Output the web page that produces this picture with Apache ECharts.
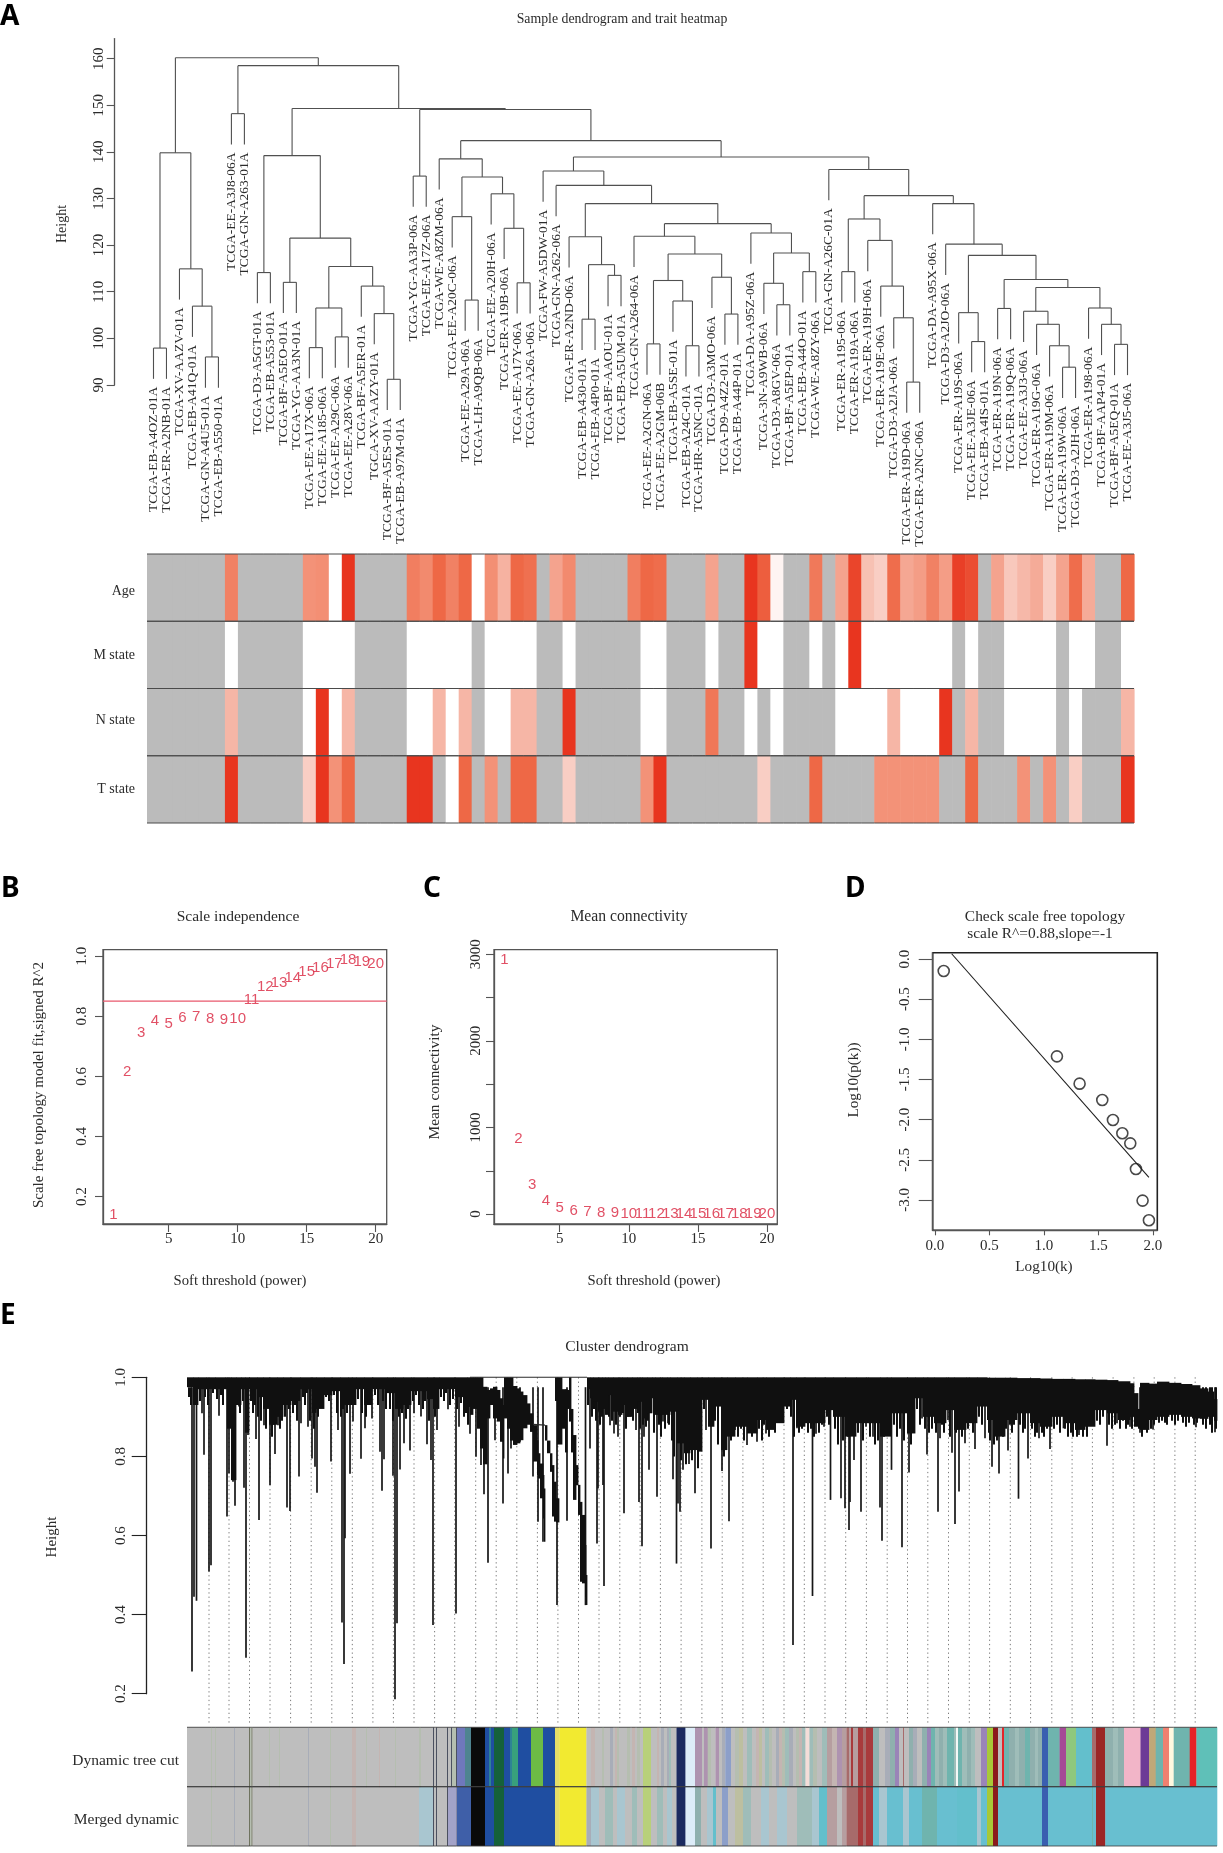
<!DOCTYPE html>
<html>
<head>
<meta charset="utf-8">
<title>WGCNA panels</title>
<script src="https://cdn.jsdelivr.net/npm/echarts@6/dist/echarts.min.js"></script>
<style>
  html, body { margin: 0; padding: 0; background: #fff; }
  #chart { width: 1223px; height: 1853px; }
</style>
</head>
<body>
<div id="chart"></div>
<script>
// ---- panel A: samples in leaf order
const sampleNames = [
  'TCGA-EB-A4OZ-01A','TCGA-ER-A2NB-01A','TCGA-XV-AAZV-01A','TCGA-EB-A41Q-01A','TCGA-GN-A4U5-01A','TCGA-EB-A550-01A',
  'TCGA-EE-A3J8-06A','TCGA-GN-A263-01A','TCGA-D3-A5GT-01A','TCGA-EB-A553-01A','TCGA-BF-A5EO-01A','TCGA-YG-AA3N-01A',
  'TCGA-EE-A17X-06A','TCGA-EE-A185-06A','TCGA-EE-A29C-06A','TCGA-EE-A28V-06A','TCGA-BF-A5ER-01A','TGCA-XV-AAZY-01A',
  'TCGA-BF-A5ES-01A','TCGA-EB-A97M-01A','TCGA-YG-AA3P-06A','TCGA-EE-A17Z-06A','TCGA-WE-A8ZM-06A','TCGA-EE-A20C-06A',
  'TCGA-EE-A29A-06A','TCGA-LH-A9QB-06A','TCGA-EE-A20H-06A','TCGA-ER-A19B-06A','TCGA-EE-A17Y-06A','TCGA-GN-A26A-06A',
  'TCGA-FW-A5DW-01A','TCGA-GN-A262-06A','TCGA-ER-A2ND-06A','TCGA-EB-A430-01A','TCGA-EB-A4P0-01A','TCGA-BF-AAOU-01A',
  'TCGA-EB-A5UM-01A','TCGA-GN-A264-06A','TCGA-EE-A2GN-06A','TCGA-EE-A2GM-06B','TCGA-EB-A5SE-01A','TCGA-EB-A24C-01A',
  'TCGA-HR-A5NC-01A','TCGA-D3-A3MO-06A','TCGA-D9-A4Z2-01A','TCGA-EB-A44P-01A','TCGA-DA-A95Z-06A','TCGA-3N-A9WB-06A',
  'TCGA-D3-A8GV-06A','TCGA-BF-A5EP-01A','TCGA-EB-A44O-01A','TCGA-WE-A8ZY-06A','TCGA-GN-A26C-01A','TCGA-ER-A195-06A',
  'TCGA-ER-A19A-06A','TCGA-ER-A19H-06A','TCGA-ER-A19E-06A','TCGA-D3-A2JA-06A','TCGA-ER-A19D-06A','TCGA-ER-A2NC-06A',
  'TCGA-DA-A95X-06A','TCGA-D3-A2JO-06A','TCGA-ER-A19S-06A','TCGA-EE-A3JE-06A','TCGA-EB-A4IS-01A','TCGA-ER-A19N-06A',
  'TCGA-ER-A19Q-06A','TCGA-EE-A3J3-06A','TCGA-ER-A19G-06A','TCGA-ER-A19M-06A','TCGA-ER-A19W-06A','TCGA-D3-A2JH-06A',
  'TCGA-ER-A198-06A','TCGA-BF-AAP4-01A','TCGA-BF-A5EQ-01A','TCGA-EE-A3J5-06A'
];
// hclust style: negative = leaf number, positive = earlier merge number, then height
const sampleMerges = [
  [-1,-2,97.9],[-5,-6,96.0],[-4,2,106.9],[-3,3,114.9],[1,4,139.8],[-7,-8,148.2],[-9,-10,114.1],[-11,-12,112.0],
  [-13,-14,98.0],[-15,-16,100.3],[9,10,106.5],[-19,-20,91.2],[-18,12,105.3],[-17,13,111.2],[11,14,115.4],[8,15,121.5],
  [7,16,139.2],[-21,-22,134.8],[-25,-26,108.2],[-24,19,126.1],[-29,-30,111.9],[-28,21,123.6],[-27,22,131.0],[20,23,134.6],
  [-23,24,138.5],[-34,-35,104.1],[-36,-37,113.5],[26,27,115.8],[-33,28,121.8],[-39,-40,98.8],[-42,-43,98.4],[-41,31,108.0],
  [30,32,112.4],[-45,-46,105.2],[-44,34,113.1],[33,35,118.1],[-38,36,121.9],[-49,-50,107.2],[-48,38,111.8],[-51,-52,114.3],
  [39,40,118.3],[-47,41,122.6],[37,42,124.6],[29,43,128.9],[-32,44,132.8],[-31,45,135.9],[-54,-55,114.3],[-59,-60,90.6],
  [-58,48,104.4],[-57,49,111.2],[-56,50,121.0],[47,51,125.6],[-71,-72,93.8],[-70,53,98.4],[-69,54,103.0],[-68,55,105.8],
  [-75,-76,98.7],[-74,57,103.0],[-73,58,106.5],[56,59,110.9],[-66,-67,106.4],[61,60,112.6],[-64,-65,99.3],[-63,63,105.5],
  [64,62,117.8],[-62,65,120.2],[-61,66,128.9],[52,67,130.6],[-53,68,136.2],[46,69,138.9],[25,70,142.4],[18,71,149.1],
  [17,72,149.3],[6,73,158.5],[5,74,160.2]
];
const leafHang = 6.6;
const traitNames = ['Age', 'M state', 'N state', 'T state'];
const NA = null;
const ageRow = [NA,NA,NA,NA,NA,NA,.6,NA,NA,NA,NA,NA,.5,.52,0,1,NA,NA,NA,NA,.62,.55,.75,.6,.75,0,.52,.35,.75,.7,NA,.42,.55,NA,NA,NA,NA,.62,.75,.72,NA,NA,NA,.42,NA,NA,1,.8,.05,NA,NA,.65,NA,.42,.92,.28,.22,.72,.4,.45,.6,.45,.95,.88,NA,.42,.25,.32,.38,.22,.42,.72,.38,NA,NA,.75];
const mRow = [NA,NA,NA,NA,NA,NA,0,NA,NA,NA,NA,NA,0,0,0,0,NA,NA,NA,NA,0,0,0,0,0,NA,0,0,0,0,NA,NA,0,NA,NA,NA,NA,NA,0,0,NA,NA,NA,0,NA,NA,1,0,0,NA,NA,0,NA,0,1,0,0,0,0,0,0,0,NA,0,NA,NA,0,0,0,0,NA,0,0,NA,NA,0];
const nRow = [NA,NA,NA,NA,NA,NA,.33,NA,NA,NA,NA,NA,0,1,0,.33,NA,NA,NA,NA,0,0,.33,0,.33,NA,0,0,.33,.33,NA,NA,1,NA,NA,NA,NA,NA,0,0,NA,NA,NA,.66,NA,NA,0,NA,0,NA,NA,NA,NA,0,0,0,0,.33,0,0,0,1,NA,.33,NA,NA,0,0,0,0,NA,0,NA,NA,NA,.33];
const tRow = [NA,NA,NA,NA,NA,NA,1,NA,NA,NA,NA,NA,.22,1,.5,.75,NA,NA,NA,NA,1,1,NA,0,.75,NA,.5,NA,.75,.75,NA,NA,.22,NA,NA,NA,NA,NA,.5,1,NA,NA,NA,NA,NA,NA,NA,.22,NA,NA,NA,.75,NA,NA,NA,NA,.5,.5,.5,.5,.5,NA,NA,.75,NA,NA,NA,.5,NA,.5,NA,.22,NA,NA,NA,1];

// ---- panels B, C, D
const powers = [1,2,3,4,5,6,7,8,9,10,11,12,13,14,15,16,17,18,19,20];
const scaleFit = [.141,.614,.745,.786,.774,.795,.798,.792,.788,.791,.853,.897,.912,.928,.947,.962,.975,.987,.982,.973];
const fitCutoff = 0.85;
const meanK = [2930,870,335,150,77,42,27,15,8,6,4,3,2,2,1,1,1,1,1,1];
const logK = [.08,1.119,1.327,1.535,1.633,1.719,1.792,1.844,1.905,1.963];
const logPk = [-.149,-1.212,-1.552,-1.755,-2.004,-2.17,-2.295,-2.614,-3.008,-3.253];
const fitLine = [[.153,.066],[1.963,-2.718]];

// ---- panel E: gene tree, x is gene order as read along the axis
const geneTreeEnd = 1030;
const treeBand = [
  [0,1,.975],[6,1,.93],[11,1,.97],[19,1,.97],[28,1,.97],[38,1,.97],[40,1,.87],[44,1,.74],[49,1,.93],[54,1,.97],
  [58,1,.86],[62,1,.97],[70,1,.95],[76,1,.92],[82,1,.88],[90,1,.9],[96,1,.93],[104,1,.94],[113,1,.97],[125,1,.91],
  [129,1,.92],[137,1,.955],[145,1,.965],[153,1,.93],[161,1,.93],[169,1,.97],[177,1,.93],[185,1,.97],[200,1,.96],[208,1,.92],
  [216,1,.93],[224,1,.965],[240,1,.945],[246,1,.92],[252,1,.97],[268,1,.95],[280,1,.925],
  [283,1,.905],[286,1,.92],[290,1,.87],[293,1,.82],[296,.976,.78],[300,.968,.896],[303,.972,.93],[306,.976,.896],[310,.968,.888],
  [313,.947,.837],[316,.93,.795],[317,1,.896],[320,1,.87],[323,1,.84],[326,.978,.829],[330,.972,.833],[333,.964,.841],[336,.955,.871],[340,.934,.88],
  [343,.909,.862],[346,.879,.787],[350,.841,.753],[351,.808,.744],[353,.782,.694],[356,.753,.643],[357,.719,.584],[358,1,1],
  [368,1,.94],[370,1,.83],[375,.97,.87],[378,.97,.81],[380,.968,.92],[382,1,.888],[384,.92,.81],[386,.854,.69],[389,.778,.727],[391,.728,.652],
  [393,.685,.483],[395,.652,.479],[398,.576,.445],[399,.5,.424],[400,1,.97],[403,1,.947],[406,1,.938],[411,1,.913],[415,1,.92],[418,1,.905],
  [421,1,.955],[426,1,.913],[431,1,.905],[435,1,.93],[440,1,.9],[445,1,.92],[450,1,.938],[455,1,.896],[460,1,.909],[465,1,.947],
  [468,1,.905],[475,1,.905],[480,1,.905],[483,1,.913],[490,1,.833],[497,1,.808],[503,1,.816],[510,1,.812],[515,1,.943],[521,1,.875],
  [527,1,.926],[534,1,.816],[540,1,.85],[548,1,.875],[560,1,.858],[570,1,.892],[579,1,.867],[587,1,.884],[597,1,.926],[603,1,.943],
  [609,1,.875],[618,1,.884],[628,1,.884],[638,1,.917],[646,1,.9],[658,1,.85],[669,1,.884],[681,1,.884],[693,1,.85],[704,1,.909],
  [720,1,.858],[728,1,.947],[736,1,.9],[747,1,.884],[759,1,.917],[767,1,.867],[779,1,.884],[790,1,.926],[800,.999,.892],[808,.999,.85],
  [818,.999,.892],[830,.998,.909],[843,.998,.884],[853,.997,.875],[865,.996,.9],[876,.996,.884],[888,.995,.867],[898,.995,.875],[908,.994,.917],[920,.993,.909],
  [931,.99,.892],[943,.985,.9],[947,.96,.875],[951,.92,.87],[953,.986,.867],[962,.984,.892],[970,.989,.9],[982,.986,.905],[994,.983,.9],[1005,.98,.896],
  [1013,.972,.895],[1021,.964,.9],[1027,.945,.89]
];
const treeBranch = [[358,.879,.84],[360,.84,.808],[363,.808,.761],[365,.778,.648],[367,.736,.635],[369,.694,.633]];
const treeBridges = [[283,1,400,1],[346,.881,358,.879]];
const spikeRanks = [5,7,9.5,15,17,22,24,32,40,42,46,48,52,57,59,61,69,72,77,83,88,91,100,103,112,114,121,125,128,130,144,151,155,157,158,163,166,174,178,185,193,195,197,206,208,210,213,217,223,227,234,240,244,246,250,261,269,272,283,
  289,294,297,301,308,316,321,324,328,333,346,351,356,370,380,398.5,
  403,410,411,416,417,423,427,431,437,443,449,452,455,457,462,470,476,481,
  486,489.5,491,493,496,502,508,519,524,535,542,548,560,570,579,590,606,610,625.5,629,637,643.5,654,658,662,663,667,674,679,686,693,695,704.5,715,722,726,735,740,751,753,761,765,768,772,778,788,798,805,812,821,831.5,841,852,863,876.5,892,920,930,943,953,966,1009,1028];
const spikeHeights = [.256,.445,.435,.909,.804,.509,.525,.903,.648,.757,.736,.675,.926,.721,.291,.854,.844,.639,.879,.728,.806,.879,.671,.662,.749,.884,.875,.795,.774,.708,.787,.867,.38,.275,.593,.756,.888,.794,.871,.896,.812,.713,.793,.751,.186,.378,.767,.833,.815,.909,.901,.831,.791,.374,.867,.919,.403,.875,.857,
  .799,.778,.704,.531,.841,.681,.757,.82,.833,.837,.749,.635,.584,.424,.637,.424,
  .82,.58,.719,.728,.472,.879,.858,.85,.656,.9,.867,.685,.573,.85,.766,.698,.888,.884,
  .742,.529,.681,.66,.766,.781,.707,.867,.567,.763,.636,.867,.829,.837,.858,.888,.323,.871,.447,.857,.875,.69,.694,.669,.614,.685,.791,.66,.875,.85,.671,.587,.766,.57,.759,.9,.896,.805,.66,.846,.892,.809,.629,.711,.833,.819,.846,.774,.757,.815,.693,.795,.846,.819,.871,.854,.827,.884,.875,.86,.868,.874,.861];
// short branches along the lower edge of the dense part
const treeTeeth = [
  [2,.95],[4,.93],[8,.955],[13,.94],[18,.95],[21,.93],[26,.96],[30,.945],[34,.955],[36,.93],[51,.95],[53,.91],[56,.94],[60,.89],[64,.94],[66,.91],[68,.93],[71,.9],[74,.89],[79,.87],
  [85,.85],[87,.88],[93,.87],[95,.89],[98,.9],[102,.92],[106,.91],[108,.93],[110,.89],[116,.95],[118,.93],[120,.96],[123,.89],[127,.87],[131,.9],[134,.93],[139,.95],[142,.94],[147,.955],[150,.91],
  [154,.9],[156,.92],[160,.91],[164,.93],[168,.95],[171,.945],[175,.91],[179,.9],[181,.935],[183,.95],[188,.955],[191,.93],[196,.94],[199,.92],[203,.92],[206,.89],[212,.9],[215,.91],[219,.895],[221,.92],
  [226,.94],[229,.955],[232,.93],[236,.92],[238,.94],[242,.89],[248,.9],[254,.95],[257,.94],[259,.96],[263,.93],[266,.945],[270,.92],[274,.935],[277,.9],[279,.91],[281,.88],
  [401,.93],[405,.9],[407,.92],[409,.89],[413,.88],[415,.9],[420,.93],[422,.9],[425,.89],[429,.88],[433,.9],[436,.91],[439,.87],[441,.9],[446,.89],[451,.91],[453,.87],[456,.88],[459,.875],[461,.89],
  [464,.92],[467,.86],[472,.88],[474,.85],[478,.87],[482,.88],[485,.84],[487,.8],[494,.79],[499,.78],[505,.79],[511,.77],[513,.82],[517,.92],[522,.88],[525,.9],[528,.89],[531,.83],[537,.8],[539,.84],
  [544,.84],[546,.86],[551,.85],[554,.87],[557,.84],[562,.86],[565,.85],[567,.87],[572,.87],[575,.84],[577,.88],[582,.85],[585,.87],[588,.86],[592,.89],[595,.9],[600,.92],[604,.9],[607,.85],[612,.86],
  [615,.87],[621,.86],[624,.87],[627,.85],[632,.86],[635,.88],[640,.9],[642,.88],[648,.87],[651,.83],[656,.84],[661,.85],[665,.86],[671,.86],[676,.84],[683,.85],[688,.83],[691,.84],[697,.85],[700,.88],
  [707,.88],[710,.85],[713,.87],[717,.84],[724,.83],[730,.92],[733,.88],[738,.87],[742,.86],[745,.87],[749,.86],[755,.88],[757,.86],[763,.85],[769,.86],[773,.87],[775,.85],[781,.87],[784,.89],[786,.86],
  [792,.9],[795,.88],[802,.86],[803,.84],[807,.83],[810,.84],[814,.86],[816,.85],[819,.87],[823,.88],[825,.86],[827,.88],[833,.88],[836,.86],[838,.87],[845,.87],[848,.85],[850,.86],[855,.86],[857,.85],
  [860,.87],[867,.87],[870,.88],[873,.86],[878,.87],[881,.85],[884,.86],[886,.85],[890,.85],[894,.87],[896,.85],[900,.85],[903,.89],[906,.88],[910,.89],[913,.88],[916,.9],[922,.88],[925,.87],[928,.88],
  [933,.87],[936,.89],[939,.87],[941,.88],[945,.87],[955,.85],[958,.87],[960,.86],[964,.87],[967,.88],[972,.885],[975,.89],[978,.885],[980,.88],[985,.89],[988,.88],[991,.89],[996,.885],[999,.875],[1002,.885],
  [1007,.88],[1010,.885],[1016,.88],[1019,.87],[1023,.88],[1025,.86],[1029,.87]
];
const guideRanks = [22,42,62.5,83,103.6,124.2,144.8,165.3,185.9,206.4,227,247.6,267.7,288.7,309.2,329.8,350.4,370.9,391.5,412,432.8,453.1,473.4,494.1,514.9,535.2,555.9,576.2,597,617.3,638,658.7,679.4,700.2,720.5,740.8,761.5,782.3,802.6,823.3,843.6,864.8,885.1,905.4,926.1,946.9,967.2,987.9,1008.2];
const guideFoot = 0.1234;

const moduleRows = ['Dynamic tree cut', 'Merged dynamic'];
const moduleColors = {
  grey:'#bebebe', sage:'#b5beb0', slate:'#a8adb8', rosy:'#c4b5b2', olive:'#6f735f', ink:'#4b5160', periwinkle:'#6f78bc', steel:'#4e8490',
  black:'#0a0a0a', blue:'#1f4ea1', teal:'#2e8296', darkgreen:'#15613a', seagreen:'#38a07c', green:'#6dbb45', paleyellow:'#e6de68', yellow:'#f2ea30',
  palegreen:'#b8d07a', navy:'#1b2a60', iceblue:'#ddecf8', mauve:'#ae93b0', periblue:'#8c9fc9', mist:'#9fbdb9', khaki:'#bdbfa0', pinkpale:'#f4ddd8',
  dustyred:'#b69ea0', brownred:'#a76b6b', darkred:'#a93a3c', tealgrey:'#8fb0ae', purple:'#9a84b8', white:'#f4f8f6', maroon:'#8b1a1c', yellowgreen:'#a8c838',
  red:'#e52428', tealmid:'#6fb4ae', royal:'#3a5fb0', magenta:'#a54a96', lightgreen:'#8ec87e', cyan:'#63bfcc', sky:'#68bfd0', brick:'#9b2626',
  pink:'#f2b5c8', violet:'#6c3a96', tan:'#c0a878', salmon:'#f08070', ivory:'#fff8e0', mint:'#5fc0b8', palesky:'#a9c6d0', lavender:'#a3a3c8', royaldim:'#3f5fa8'
};
const cutModules = [
  [0,'grey'],[24,'sage'],[25,'grey'],[28,'sage'],[29,'grey'],[47,'slate'],[48,'grey'],[62,'olive'],[63,'sage'],[64.5,'olive'],[65.5,'grey'],[82,'sage'],[83,'grey'],[92,'sage'],[93,'grey'],
  [121,'slate'],[122,'grey'],[143,'sage'],[144,'grey'],[165,'rosy'],[169,'grey'],[179,'sage'],[180,'grey'],[192,'rosy'],[193,'grey'],[208,'sage'],[209,'grey'],
  [232,'sage'],[234,'grey'],[246,'ink'],[247,'grey'],[249,'ink'],[250,'grey'],[260,'ink'],[261,'grey'],[264,'ink'],[265,'sage'],[269,'ink'],[270,'periwinkle'],
  [278,'steel'],[284,'black'],[298,'blue'],[302,'teal'],[304,'blue'],[307,'darkgreen'],[317,'blue'],[323,'teal'],[325,'seagreen'],[331,'blue'],[344,'green'],[356,'blue'],
  [368,'paleyellow'],[372.5,'yellow'],[399.4,'grey'],[404,'rosy'],[408,'grey'],[415,'sage'],[417,'grey'],[423,'slate'],[426,'grey'],[428,'rosy'],[430,'sage'],[432,'grey'],[440,'sage'],[443,'grey'],[445,'rosy'],
  [448,'grey'],[450,'sage'],[453,'grey'],[456,'palegreen'],[464,'grey'],[470,'rosy'],[472,'grey'],[474,'slate'],[477,'grey'],[480,'slate'],[482,'mist'],[484,'grey'],[489.5,'navy'],[498.5,'iceblue'],[508,'mauve'],[515,'grey'],[517,'mauve'],
  [520.7,'sage'],[524,'grey'],[528.5,'mauve'],[532,'grey'],[535,'slate'],[538.3,'periblue'],[544,'grey'],[548,'sage'],[552,'khaki'],[556,'grey'],[560,'mist'],[565,'grey'],[569,'rosy'],[572,'khaki'],[575,'grey'],[578,'mist'],[582,'sage'],[585,'grey'],[589,'slate'],[592,'rosy'],
  [595,'sage'],[598,'mist'],[602,'slate'],[606,'grey'],[609,'sage'],[612,'rosy'],[615,'mist'],[618.5,'pinkpale'],[622.4,'mist'],[626,'sage'],[630,'grey'],[635,'mist'],[640,'dustyred'],[645,'rosy'],[650,'mauve'],[655,'dustyred'],[659.5,'brownred'],[662,'dustyred'],[664,'darkred'],[666,'dustyred'],
  [671,'darkred'],[676,'brownred'],[679,'darkred'],[686,'tealgrey'],[692,'grey'],[698,'slate'],[703,'tealgrey'],[708,'purple'],[712,'grey'],[716,'brownred'],[717,'grey'],
  [722,'tealgrey'],[726,'slate'],[730,'grey'],[735,'tealgrey'],[740,'purple'],[744,'tealmid'],[748,'mist'],[752,'tealgrey'],[756,'mist'],[760,'tealmid'],[767,'mist'],[769,'white'],[771,'tealmid'],[775,'mist'],[780,'tealgrey'],[784,'mist'],
  [788,'grey'],[794,'purple'],[800,'yellowgreen'],[806,'maroon'],[811,'grey'],[815,'red'],[817,'tealmid'],[822,'tealgrey'],[828,'mist'],[832,'tealgrey'],[838,'tealmid'],[843,'tealgrey'],[848,'mist'],[851,'tealgrey'],[855,'royal'],
  [861,'tealmid'],[872.6,'magenta'],[879,'lightgreen'],[889,'cyan'],[905,'brownred'],[909,'brick'],[918,'tealgrey'],[926,'mist'],[931,'tealgrey'],[937,'pink'],[953.5,'violet'],[962,'tan'],
  [968.7,'tealmid'],[976,'salmon'],[982,'ivory'],[986.7,'tealmid'],[1002.7,'red'],[1009.4,'mint']
];
const mergedModules = [
  [0,'grey'],[24,'sage'],[25,'grey'],[47,'slate'],[48,'grey'],[62,'olive'],[63,'sage'],[64.5,'olive'],[65.5,'grey'],[121,'slate'],[122,'grey'],[143,'sage'],[144,'grey'],[165,'rosy'],[169,'grey'],
  [232,'palesky'],[246,'ink'],[247,'grey'],[249,'ink'],[250,'grey'],[260,'ink'],[261,'lavender'],[269.7,'ink'],[270,'royaldim'],[284,'black'],
  [298,'blue'],[307,'darkgreen'],[317,'blue'],[368,'paleyellow'],[372.5,'yellow'],[399.4,'slate'],[404,'palesky'],[412,'grey'],[418,'mist'],[426,'grey'],[430,'palesky'],
  [438,'grey'],[445,'mist'],[450,'grey'],[456,'palegreen'],[464,'grey'],[470,'mist'],[476,'grey'],[480,'palesky'],[485,'grey'],[489.5,'navy'],[498.5,'iceblue'],[508,'tealgrey'],
  [514,'grey'],[520,'palesky'],[526,'cyan'],[529,'grey'],[535,'periblue'],[541,'grey'],[548,'khaki'],[556,'mist'],[564,'grey'],[574,'palesky'],[582,'grey'],[590,'palesky'],
  [600,'grey'],[610,'mist'],[625,'palesky'],[632,'cyan'],[640,'dustyred'],[650,'grey'],[655,'dustyred'],[659.5,'brownred'],[671,'darkred'],[676,'brownred'],[679,'darkred'],
  [686,'sky'],[692,'palesky'],[700,'sky'],[716,'palesky'],[722,'sky'],[735,'tealmid'],[750,'sky'],[770,'cyan'],[790,'palesky'],[794,'sky'],[800,'yellowgreen'],
  [806,'maroon'],[811,'sky'],[855,'royal'],[861,'sky'],[905,'tealmid'],[906,'sky'],[909,'brick'],[918.3,'sky']
];

// ---- build dendrogram segments from the merges
const leafX = i => i + 0.5;
const treeSegments = [];
const mergeX = [];
const leafLabels = [];
sampleMerges.forEach(m => {
  const [a, b, h] = m;
  const side = id => {
    if (id < 0) {
      const x = leafX(-id - 1);
      treeSegments.push([x, h, x, h - leafHang]);
      leafLabels.push([x, h - leafHang, sampleNames[-id - 1]]);
      return x;
    }
    const x = mergeX[id - 1];
    treeSegments.push([x, h, x, sampleMerges[id - 1][2]]);
    return x;
  };
  const xa = side(a);
  const xb = side(b);
  treeSegments.push([xa, h, xb, h]);
  mergeX.push((xa + xb) / 2);
});

const serif = '"Liberation Serif", "Times New Roman", serif';
const inkText = '#2b2b2b';
const heatStops = [[0,[255,255,255]],[.33,[246,182,166]],[.5,[243,146,120]],[.75,[238,104,70]],[1,[232,53,31]]];
const heatColor = v => {
  if (v === null) return '#bbbbbb';
  let k = 0;
  while (k < heatStops.length - 2 && v > heatStops[k + 1][0]) k++;
  const [a, ca] = heatStops[k];
  const [b, cb] = heatStops[k + 1];
  const t = (v - a) / (b - a);
  return 'rgb(' + ca.map((c, i) => Math.round(c + (cb[i] - c) * t)).join(',') + ')';
};
const traitCells = [];
[ageRow, mRow, nRow, tRow].forEach((row, r) => row.forEach((v, i) => traitCells.push([i, r, v === null ? -1 : v])));

const lineItem = (seg, api, stroke, width) => {
  const p = api.coord([seg[0], seg[1]]);
  const q = api.coord([seg[2], seg[3]]);
  return { type: 'line', shape: { x1: p[0], y1: p[1], x2: q[0], y2: q[1] }, style: { stroke: stroke, lineWidth: width } };
};
const segmentSeries = (xi, yi, data, stroke, width) => ({
  type: 'custom', xAxisIndex: xi, yAxisIndex: yi, data: data, silent: true,
  encode: { x: [0, 2], y: [1, 3] },
  renderItem: (params, api) => lineItem([api.value(0), api.value(1), api.value(2), api.value(3)], api, stroke, width)
});
const bandSeries = (band, xi, yi) => ({
  type: 'custom', xAxisIndex: xi, yAxisIndex: yi, silent: true,
  data: band.map((b, i) => [b[0], b[1], b[2], i + 1 < band.length ? band[i + 1][0] : b[0] + 3]),
  encode: { x: [0, 3], y: [1, 2] },
  renderItem: (params, api) => {
    const p = api.coord([api.value(0), api.value(1)]);
    const q = api.coord([api.value(3), api.value(2)]);
    return { type: 'rect', shape: { x: p[0], y: p[1], width: q[0] - p[0] + 0.4, height: q[1] - p[1] }, style: { fill: '#101010' } };
  }
});
const moduleSeries = (list, rowIndex) => ({
  type: 'custom', xAxisIndex: 6, yAxisIndex: 6, silent: true,
  data: list.map((b, i) => [b[0], rowIndex, i + 1 < list.length ? list[i + 1][0] : geneTreeEnd, b[1]]),
  encode: { x: [0, 2], y: 1 },
  renderItem: (params, api) => {
    const p = api.coord([api.value(0), rowIndex]);
    const q = api.coord([api.value(2), rowIndex]);
    const h = api.size([0, 1])[1];
    const item = list[params.dataIndex];
    return {
      type: 'group',
      children: [
        { type: 'rect', shape: { x: p[0], y: p[1] - h / 2, width: q[0] - p[0] + 0.3, height: h }, style: { fill: moduleColors[item[1]] } },
        { type: 'line', z2: 5, shape: { x1: p[0], y1: p[1] - h / 2, x2: q[0], y2: p[1] - h / 2 }, style: { stroke: '#3c3c3c', lineWidth: 1.1, opacity: 0.8 } },
        { type: 'line', z2: 5, shape: { x1: p[0], y1: p[1] + h / 2, x2: q[0], y2: p[1] + h / 2 }, style: { stroke: '#3c3c3c', lineWidth: 1.1, opacity: 0.8 } }
      ]
    };
  }
});
const labelSeries = (xi, yi, ys) => ({
  type: 'scatter', xAxisIndex: xi, yAxisIndex: yi, silent: true, symbolSize: 2,
  itemStyle: { color: 'rgba(0,0,0,0)' },
  data: powers.map((p, i) => [p, ys[i]]),
  label: {
    show: true, position: 'inside', color: '#d9243f', fontSize: 15, fontFamily: '"Liberation Sans", Arial, sans-serif',
    formatter: p => String(p.data[0])
  }
});
const numAxis = (o) => Object.assign({
  type: 'value', splitLine: { show: false },
  axisLine: { show: true, onZero: false, lineStyle: { color: '#555', width: 1.3 } },
  axisTick: { show: true, length: 8, lineStyle: { color: '#555', width: 1.1 } },
  axisLabel: { color: inkText, fontFamily: serif, fontSize: 15, margin: 8, formatter: v => String(v) }
}, o);
const tickSet = (axis, ticks, labels, extra) => {
  axis.axisTick = Object.assign({}, axis.axisTick, { customValues: ticks }, extra && extra.tick);
  axis.axisLabel = Object.assign({}, axis.axisLabel, { customValues: labels || ticks }, extra && extra.label);
  return axis;
};
const hiddenAxis = (gridIndex, min, max) => ({ type: 'value', gridIndex, min, max, show: false });

const panelLetter = (text, left, top) => ({
  text, left, top, padding: 0,
  textStyle: { fontFamily: '"Noto Sans", "Open Sans", sans-serif', fontWeight: 700, fontSize: 28, color: '#000' }
});
const plotTitle = (text, cx, cy, size) => ({
  type: 'text', x: cx, y: cy, silent: true,
  style: { text, fill: inkText, font: (size || 15) + 'px ' + serif, align: 'center', verticalAlign: 'middle' }
});
const sideTitle = (text, cx, cy, size) => ({
  type: 'text', x: cx, y: cy, rotation: Math.PI / 2, silent: true,
  style: { text, fill: inkText, font: (size || 15) + 'px ' + serif, align: 'center', verticalAlign: 'middle' }
});
const rowTitle = (text, right, cy, size) => ({
  type: 'text', x: right, y: cy, silent: true,
  style: { text, fill: inkText, font: size + 'px ' + serif, align: 'right', verticalAlign: 'middle' }
});
const hiddenRows = (gridIndex, names) => ({ type: 'category', gridIndex, data: names, inverse: true, show: false });

const option = {
  animation: false,
  backgroundColor: '#fff',
  title: [
    panelLetter('A', 0, 3), panelLetter('B', 1, 875), panelLetter('C', 423, 875), panelLetter('D', 845, 875), panelLetter('E', 0, 1302)
  ],
  graphic: { elements: [
    plotTitle('Sample dendrogram and trait heatmap', 622, 19, 13.8),
    sideTitle('Height', 62, 224, 14),
    rowTitle(traitNames[0], 135, 591, 14),
    rowTitle(traitNames[1], 135, 655, 14),
    rowTitle(traitNames[2], 135, 720, 14),
    rowTitle(traitNames[3], 135, 789, 14),
    plotTitle('Scale independence', 238, 917, 15.5),
    plotTitle('Soft threshold (power)', 240, 1281, 14.7),
    sideTitle('Scale free topology model fit,signed R^2', 39, 1085, 15),
    plotTitle('Mean connectivity', 629, 917, 15.7),
    plotTitle('Soft threshold (power)', 654, 1281, 14.7),
    sideTitle('Mean connectivity', 435, 1082, 15.4),
    plotTitle('Check scale free topology', 1045, 917, 15.4),
    plotTitle('scale R^=0.88,slope=-1', 1040, 934, 15.4),
    plotTitle('Log10(k)', 1044, 1267, 15.2),
    sideTitle('Log10(p(k))', 854, 1080, 15.2),
    plotTitle('Cluster dendrogram', 627, 1347, 15.5),
    sideTitle('Height', 52, 1537, 15),
    rowTitle(moduleRows[0], 179, 1760.5, 15.5),
    rowTitle(moduleRows[1], 179, 1819.5, 15.5)
  ] },
  grid: [
    { left: 147, width: 987, top: 38.6, height: 346.3 },
    { left: 147, width: 987, top: 554, height: 269 },
    { left: 103, width: 283.7, top: 949.7, height: 274.3, show: true, borderColor: '#555', borderWidth: 1.3 },
    { left: 494, width: 283.3, top: 949.7, height: 274.3, show: true, borderColor: '#555', borderWidth: 1.3 },
    { left: 932.7, width: 224.6, top: 952.7, height: 277.6, show: true, borderColor: '#222', borderWidth: 1.6 },
    { left: 187, width: 1030, top: 1377.3, height: 316.4 },
    { left: 187, width: 1030, top: 1727.3, height: 118.7 }
  ],
  xAxis: [
    hiddenAxis(0, 0, 76),
    { type: 'category', gridIndex: 1, data: sampleNames, show: false },
    tickSet(numAxis({ gridIndex: 2, min: 0.24, max: 20.8 }), [5, 10, 15, 20]),
    tickSet(numAxis({ gridIndex: 3, min: 0.24, max: 20.75 }), [5, 10, 15, 20]),
    tickSet(numAxis({ gridIndex: 4, min: -0.021, max: 2.04 }), [0, 0.5, 1, 1.5, 2], null, { tick: { length: 5 }, label: { formatter: v => v.toFixed(1) } }),
    hiddenAxis(5, 0, geneTreeEnd),
    hiddenAxis(6, 0, geneTreeEnd)
  ],
  yAxis: [
    tickSet(numAxis({ gridIndex: 0, min: 90, max: 164.3, offset: 32.3 }), [90, 100, 110, 120, 130, 140, 150, 160], null, { label: { rotate: 90, margin: 8 } }),
    hiddenRows(1, traitNames),
    tickSet(numAxis({ gridIndex: 2, min: 0.109, max: 1.021 }), [0.2, 0.4, 0.6, 0.8, 1], null, { label: { rotate: 90, margin: 13, formatter: v => v.toFixed(1) } }),
    tickSet(numAxis({ gridIndex: 3, min: -115, max: 3053 }), [0, 500, 1000, 1500, 2000, 2500, 3000], [0, 1000, 2000, 3000], { label: { rotate: 90, margin: 10 } }),
    tickSet(numAxis({ gridIndex: 4, min: -3.378, max: 0.079 }), [0, -0.5, -1, -1.5, -2, -2.5, -3], null, { tick: { length: 14 }, label: { rotate: 90, margin: 20, formatter: v => v.toFixed(1) } }),
    tickSet(numAxis({ gridIndex: 5, min: 0.2, max: 1, offset: 40.3, axisLine: { show: true, onZero: false, lineStyle: { color: '#222', width: 1.3 } } }), [0.2, 0.4, 0.6, 0.8, 1], null, { tick: { length: 15, lineStyle: { color: '#222', width: 1.1 } }, label: { rotate: 90, margin: 18, formatter: v => v.toFixed(1) } }),
    hiddenRows(6, moduleRows)
  ],
  series: [
    segmentSeries(0, 0, treeSegments, '#505050', 1.1),
    {
      type: 'custom', xAxisIndex: 0, yAxisIndex: 0, data: leafLabels, silent: true,
      encode: { x: 0, y: 1 },
      renderItem: (params, api) => {
        const p = api.coord([api.value(0), api.value(1)]);
        return {
          type: 'text', x: p[0], y: p[1] + 8, rotation: Math.PI / 2,
          style: { text: leafLabels[params.dataIndex][2], fill: inkText, font: '13.5px ' + serif, align: 'right', verticalAlign: 'middle' }
        };
      }
    },
    {
      type: 'custom', xAxisIndex: 1, yAxisIndex: 1, data: traitCells, silent: true,
      encode: { x: 0, y: 1 },
      renderItem: (params, api) => {
        const c = api.coord([api.value(0), api.value(1)]);
        const s = api.size([1, 1]);
        const v = api.value(2);
        const edge = y => ({ type: 'line', z2: 5, shape: { x1: c[0] - s[0] / 2, y1: y, x2: c[0] + s[0] / 2, y2: y }, style: { stroke: '#4a4a4a', lineWidth: 1 } });
        return {
          type: 'group',
          children: [
            { type: 'rect', shape: { x: c[0] - s[0] / 2, y: c[1] - s[1] / 2, width: s[0] + 0.6, height: s[1] }, style: { fill: heatColor(v < 0 ? null : v) } },
            edge(c[1] - s[1] / 2), edge(c[1] + s[1] / 2)
          ]
        };
      }
    },
    labelSeries(2, 2, scaleFit),
    {
      type: 'line', xAxisIndex: 2, yAxisIndex: 2, symbol: 'none', silent: true,
      data: [[0.24, fitCutoff], [20.8, fitCutoff]], lineStyle: { color: '#e8586c', width: 1.4 }
    },
    labelSeries(3, 3, meanK),
    {
      type: 'scatter', xAxisIndex: 4, yAxisIndex: 4, silent: true, symbol: 'circle', symbolSize: 11,
      data: logK.map((k, i) => [k, logPk[i]]),
      itemStyle: { color: 'rgba(0,0,0,0)', borderColor: '#1c1c1c', borderWidth: 1.6 }
    },
    {
      type: 'line', xAxisIndex: 4, yAxisIndex: 4, symbol: 'none', silent: true,
      data: fitLine, lineStyle: { color: '#1c1c1c', width: 1.1 }
    },
    {
      type: 'custom', xAxisIndex: 5, yAxisIndex: 5, silent: true,
      data: guideRanks.map(x => [x, 1, x, guideFoot]),
      encode: { x: [0, 2], y: [1, 3] },
      renderItem: (params, api) => {
        const item = lineItem([api.value(0), api.value(1), api.value(2), api.value(3)], api, '#7a7a7a', 1);
        item.style.lineDash = [1.3, 3];
        return item;
      }
    },
    segmentSeries(5, 5, spikeRanks.map((x, i) => [x, 0.975, x, spikeHeights[i]]), '#161616', 1.7),
    segmentSeries(5, 5, treeTeeth.map(t => [t[0], 0.975, t[0], t[1]]), '#101010', 2),
    bandSeries(treeBand, 5, 5),
    bandSeries(treeBranch, 5, 5),
    segmentSeries(5, 5, treeBridges, '#2a2a2a', 1.1),
    moduleSeries(cutModules, 0),
    moduleSeries(mergedModules, 1)
  ]
};

const chart = echarts.init(document.getElementById('chart'));
chart.setOption(option);
</script>
</body>
</html>
